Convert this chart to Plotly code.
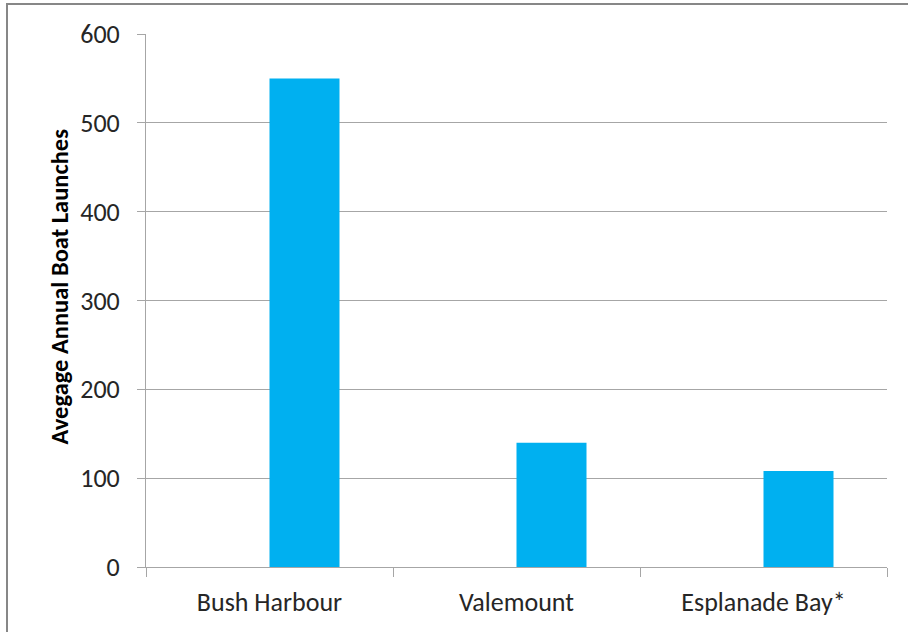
import plotly.graph_objects as go

# Boat launch counts by site
sites = ["Bush Harbour", "Valemount", "Esplanade Bay*"]
launches = [550, 140, 108]
y_ticks = [0, 100, 200, 300, 400, 500, 600]

W, H = 908, 632
L, R, T, B = 146, 21, 34, 65
plot_w = W - L - R
plot_h = H - T - B

def px_x(x):
    return (x - L) / plot_w

def px_y(y):
    return (H - B - y) / plot_h

font_family = "Carlito, Calibri, Lato, sans-serif"
grey = "#a6a6a6"
text_col = "#262626"

fig = go.Figure(
    go.Bar(
        x=sites,
        y=launches,
        marker=dict(color="#00B0F0", line=dict(width=0)),
        offset=0,
        width=70 / (plot_w / 3),
    )
)

fig.update_layout(
    width=W,
    height=H,
    margin=dict(l=L, r=R, t=T, b=B),
    paper_bgcolor="white",
    plot_bgcolor="white",
    showlegend=False,
    font=dict(family=font_family, color=text_col, size=26),
    xaxis=dict(
        type="category",
        range=[-0.5, 2.5],
        tickson="boundaries",
        ticks="outside",
        ticklen=9,
        tickcolor=grey,
        showline=True,
        linecolor=grey,
        linewidth=1,
        showgrid=False,
        ticklabelstandoff=12,
        tickfont=dict(size=26, color=text_col),
    ),
    yaxis=dict(
        range=[0, 600],
        tickvals=y_ticks,
        ticks="outside",
        ticklen=8,
        tickcolor=grey,
        showline=True,
        linecolor=grey,
        linewidth=1,
        showgrid=True,
        gridcolor=grey,
        gridwidth=1,
        zeroline=False,
        ticklabelstandoff=12,
        tickfont=dict(size=26, color=text_col),
    ),
    annotations=[
        dict(
            text="<b>Avegage Annual Boat Launches</b>",
            xref="paper",
            yref="paper",
            x=px_x(59),
            y=px_y(286.5),
            textangle=-90,
            showarrow=False,
            xanchor="center",
            yanchor="middle",
            font=dict(size=24.5, color="#000000", family=font_family),
        )
    ],
    shapes=[
        dict(
            type="rect",
            xref="paper",
            yref="paper",
            x0=px_x(7),
            y0=px_y(H + 20),
            x1=px_x(W + 20),
            y1=px_y(4),
            line=dict(color="#878787", width=2),
            fillcolor="rgba(0,0,0,0)",
            layer="below",
        )
    ],
)

fig.write_html("out.html")
